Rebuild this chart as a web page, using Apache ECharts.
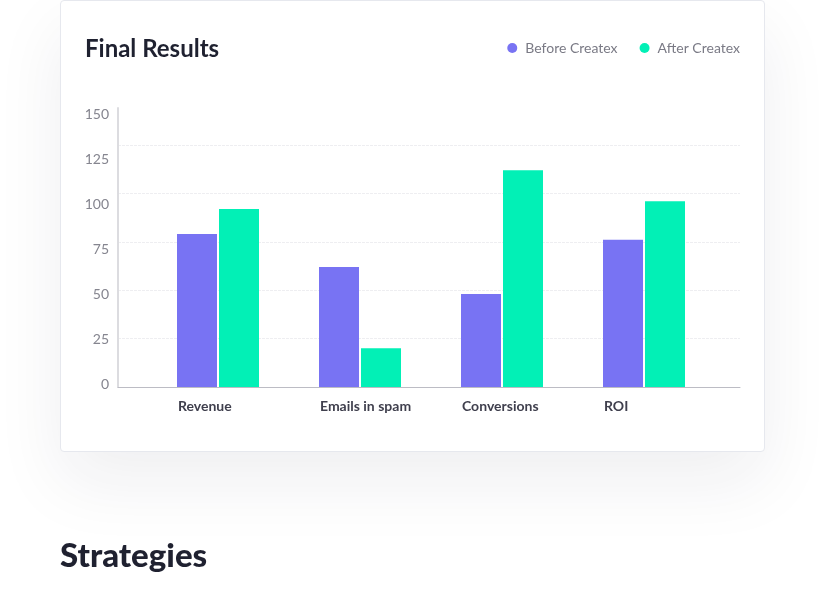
<!DOCTYPE html>
<html>
<head>
<meta charset="utf-8">
<script src="https://cdn.jsdelivr.net/npm/echarts@6/dist/echarts.min.js"></script>
<style>
  html, body { margin: 0; padding: 0; background: #ffffff; width: 825px; height: 593px; overflow: hidden; }
  #card { position: absolute; left: 60px; top: 0px; width: 703px; height: 450px;
          border: 1px solid #e6e8ee; border-radius: 4px; background: #fff;
          box-shadow: 0 30px 70px rgba(30, 30, 60, 0.07); }
  #chart { position: absolute; left: 0; top: 0; width: 825px; height: 593px; }
</style>
</head>
<body>
<div id="card"></div>
<div id="chart"></div>
<script>
const categories = ['Revenue', 'Emails in spam', 'Conversions', 'ROI'];
const beforeValues = [79, 62, 48, 76];
const afterValues = [92, 20, 112, 96];
const seriesNames = ['Before Createx', 'After Createx'];
const yTickLabels = [0, 25, 50, 75, 100, 125, 150];

const FONT = 'Lato, "Noto Sans", sans-serif';
const PX_PER_CAT = 142;
const xMin = -100 / PX_PER_CAT;
const xMax = xMin + 622 / PX_PER_CAT;
const labelShift = 40 / PX_PER_CAT;

const chart = echarts.init(document.getElementById('chart'), null, { renderer: 'canvas' });
chart.setOption({
  animation: false,
  backgroundColor: 'transparent',
  title: [
    { text: 'Final Results', left: 85, top: 37, padding: 0,
      textStyle: { fontFamily: FONT, fontSize: 24, fontWeight: 'bold', color: '#1f2130' } },
    { text: 'Strategies', left: 60, top: 540, padding: 0,
      textStyle: { fontFamily: FONT, fontSize: 33, fontWeight: 900, color: '#1f2130' } }
  ],
  legend: {
    right: 85, top: 41, padding: 0,
    icon: 'circle', itemWidth: 10, itemHeight: 10, itemGap: 22,
    data: seriesNames,
    textStyle: { fontFamily: FONT, fontSize: 14, color: '#7a7a85', padding: [0, 0, 0, 3] }
  },
  grid: [
    { left: 118, right: 85, top: 108, bottom: 206, containLabel: false },
    { left: 118, right: 85, top: 114, bottom: 209, containLabel: false }
  ],
  xAxis: [
    { type: 'value', gridIndex: 0, min: xMin, max: xMax,
      axisLine: { show: true, onZero: false, lineStyle: { color: '#bcbcc4', width: 1 } },
      axisTick: { show: false },
      splitLine: { show: false },
      axisLabel: {
        customValues: categories.map((c, i) => i - labelShift),
        formatter: v => categories[Math.round(v + labelShift)] || '',
        align: 'left', margin: 12,
        fontFamily: FONT, fontSize: 14, fontWeight: 'bold', color: '#3f3f4d'
      }
    },
    { type: 'value', gridIndex: 1, show: false, min: 0, max: 1 }
  ],
  yAxis: [
    { type: 'value', gridIndex: 0, min: 0, max: 279 / 1.936, interval: 25,
      axisLine: { show: true, onZero: false, lineStyle: { color: '#dcdce0', width: 2 } },
      axisTick: { show: false },
      axisLabel: { show: false },
      splitLine: { show: true, showMinLine: false, showMaxLine: false,
                   lineStyle: { color: '#eeeef1', type: [3, 1], width: 1 } }
    },
    { type: 'value', gridIndex: 1, min: yTickLabels[0], max: yTickLabels[yTickLabels.length - 1], interval: 25,
      axisLine: { show: false }, axisTick: { show: false }, splitLine: { show: false },
      axisLabel: { margin: 9, fontFamily: FONT, fontSize: 14, color: '#85858f' }
    }
  ],
  series: [
    { name: seriesNames[0], type: 'bar', xAxisIndex: 0, yAxisIndex: 0,
      barWidth: 40, barGap: '5%',
      itemStyle: { color: '#7873f3' },
      data: beforeValues.map((v, i) => [i, v]) },
    { name: seriesNames[1], type: 'bar', xAxisIndex: 0, yAxisIndex: 0,
      barWidth: 40, barGap: '5%',
      itemStyle: { color: '#02f0b6' },
      data: afterValues.map((v, i) => [i, v]) }
  ]
});
</script>
</body>
</html>
